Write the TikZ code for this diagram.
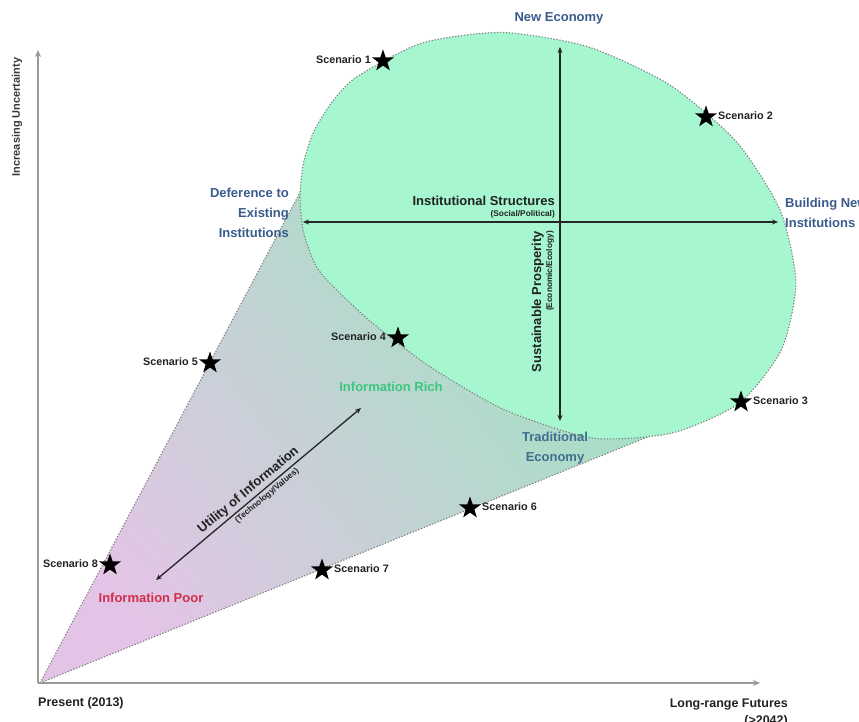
\documentclass[tikz,border=0pt]{standalone}
\usepackage{fontspec}
\setmainfont{Liberation Sans}
\usetikzlibrary{shapes.geometric,arrows.meta}
\definecolor{mint}{HTML}{A6F6D0}
\definecolor{cpink}{HTML}{E4C4E6}
\definecolor{cmid}{HTML}{CCDAD8}
\definecolor{cgreen}{HTML}{A0E2C2}
\definecolor{lblue}{HTML}{3B5A8C}
\definecolor{tblue}{HTML}{3E6F8E}
\definecolor{irich}{HTML}{3CC77E}
\definecolor{ipoor}{HTML}{D02E4C}
\definecolor{axgray}{HTML}{9A9A9A}
\definecolor{txt}{HTML}{222222}
\tikzset{
  dotborder/.style={draw=black!50, line width=1.1pt, dash pattern=on 1.3pt off 1.7pt},
  axisline/.style={draw=axgray, line width=1.6pt, -{Stealth[length=7pt,width=6pt]}},
  dblarrow/.style={draw=black!85, line width=1.5pt, {Stealth[length=6pt,width=5pt]}-{Stealth[length=6pt,width=5pt]}},
  scenstar/.style={star, star points=5, star point ratio=2.5, fill=black, minimum size=23pt, inner sep=0pt},
  scen/.style={font=\bfseries\fontsize{10.8}{12}\selectfont, text=txt, inner sep=0pt},
  big/.style={font=\bfseries\fontsize{13}{20}\selectfont, inner sep=0pt},
  tiny/.style={font=\bfseries\fontsize{8.3}{9}\selectfont, text=txt, inner sep=0pt},
  axlabel/.style={font=\bfseries\fontsize{12.5}{14}\selectfont, text=txt, inner sep=0pt},
}
\begin{document}
\begin{tikzpicture}[x=1pt,y=1pt]
\useasboundingbox (0,0) rectangle (859,-722);
% coordinates
\coordinate (apex) at (40,-683);
\coordinate (cup) at (304,-185);
\coordinate (clow) at (650,-436);
% cone
\shade[shading=axis, top color=cgreen, middle color=cmid, bottom color=cpink, shading angle=-52] (apex) -- (cup) -- (clow) -- cycle;
\draw[dotborder] (apex) -- (cup);
\draw[dotborder] (apex) -- (clow);
% blob
\def\blobpts{(304,-234) (300,-198) (303.4,-163.3) (314,-131) (332.2,-101.9) (356.5,-77) (422,-43) (502.5,-32.4) (588.7,-47)
 (669.9,-85) (736.3,-141.6) (780,-210) (795.9,-282.2) (781.7,-349.1) (739.5,-403)
 (672,-433) (592,-438) (505,-410) (432,-368) (370,-321) (320,-272)}
\path[fill=mint] plot[smooth cycle, tension=0.42] coordinates {\blobpts};
\draw[dotborder] plot[smooth cycle, tension=0.42] coordinates {\blobpts};
% axes
\coordinate (origin) at (38,-683);
\coordinate (ytop) at (38,-50);
\coordinate (xend) at (760,-683);
\draw[axisline] (origin) -- (ytop);
\draw[axisline] (origin) -- (xend);
\node[font=\bfseries\fontsize{11}{13}\selectfont, text=txt!90, rotate=90] (yl) at (17,-117) {Increasing Uncertainty};
\node[axlabel, anchor=base west] (xl0) at (38,-706) {Present (2013)};
\node[axlabel, anchor=base east] (xl1) at (788,-707) {Long-range Futures};
\node[axlabel, anchor=base east] (xl2) at (788,-724) {(>2042)};
% quadrant arrows
\coordinate (hl) at (303,-222);
\coordinate (hr) at (778,-222);
\coordinate (vt) at (560,-47);
\coordinate (vb) at (560,-421);
\draw[dblarrow] (hl) -- (hr);
\draw[dblarrow] (vt) -- (vb);
\node[big, text=txt, anchor=base east] (is) at (555,-206) {Institutional Structures};
\node[tiny, anchor=base east] (sp) at (555,-216) {(Social/Political)};
\node[big, text=txt, rotate=90, anchor=base east] (sus) at (541,-231) {Sustainable Prosperity};
\node[tiny, rotate=90, anchor=base east] (ee) at (552,-231) {(Economic/Ecology)};
% pole labels
\node[big, text=lblue] (ne) at (559,-18) {New Economy};
\node[big, text=tblue, align=center] (te) at (555,-448) {Traditional\\Economy};
\node[big, text=lblue, align=right, anchor=east] (de) at (289,-213) {Deference to\\Existing\\Institutions};
\node[big, text=lblue, align=left, anchor=west] (bn) at (785,-213) {Building New\\Institutions};
% utility arrow
\coordinate (ul) at (156,-580);
\coordinate (ur) at (361,-408);
\draw[dblarrow, line width=1.3pt] (ul) -- (ur)
  node[pos=0.48, sloped, above=2.5pt, big, text=txt] (ut) {Utility of Information}
  node[pos=0.52, sloped, below=2.5pt, tiny] (tv) {(Technology/Values)};
\node[big, text=irich] (ir) at (391,-387) {Information Rich};
\node[big, text=ipoor] (ip) at (151,-598) {Information Poor};
% scenarios
\node[scenstar] (s1) at (383,-61) {};
\node[scen, anchor=east] (l1) at ([xshift=-12pt,yshift=1pt]s1.center) {Scenario 1};
\node[scenstar] (s2) at (706,-117) {};
\node[scen, anchor=west] (l2) at ([xshift=12pt,yshift=1pt]s2.center) {Scenario 2};
\node[scenstar] (s3) at (741,-402) {};
\node[scen, anchor=west] (l3) at ([xshift=12pt,yshift=1pt]s3.center) {Scenario 3};
\node[scenstar] (s4) at (398,-338) {};
\node[scen, anchor=east] (l4) at ([xshift=-12pt,yshift=1pt]s4.center) {Scenario 4};
\node[scenstar] (s5) at (210,-363) {};
\node[scen, anchor=east] (l5) at ([xshift=-12pt,yshift=1pt]s5.center) {Scenario 5};
\node[scenstar] (s6) at (470,-508) {};
\node[scen, anchor=west] (l6) at ([xshift=12pt,yshift=1pt]s6.center) {Scenario 6};
\node[scenstar] (s7) at (322,-570) {};
\node[scen, anchor=west] (l7) at ([xshift=12pt,yshift=1pt]s7.center) {Scenario 7};
\node[scenstar] (s8) at (110,-565) {};
\node[scen, anchor=east] (l8) at ([xshift=-12pt,yshift=1pt]s8.center) {Scenario 8};
\end{tikzpicture}
\end{document}
